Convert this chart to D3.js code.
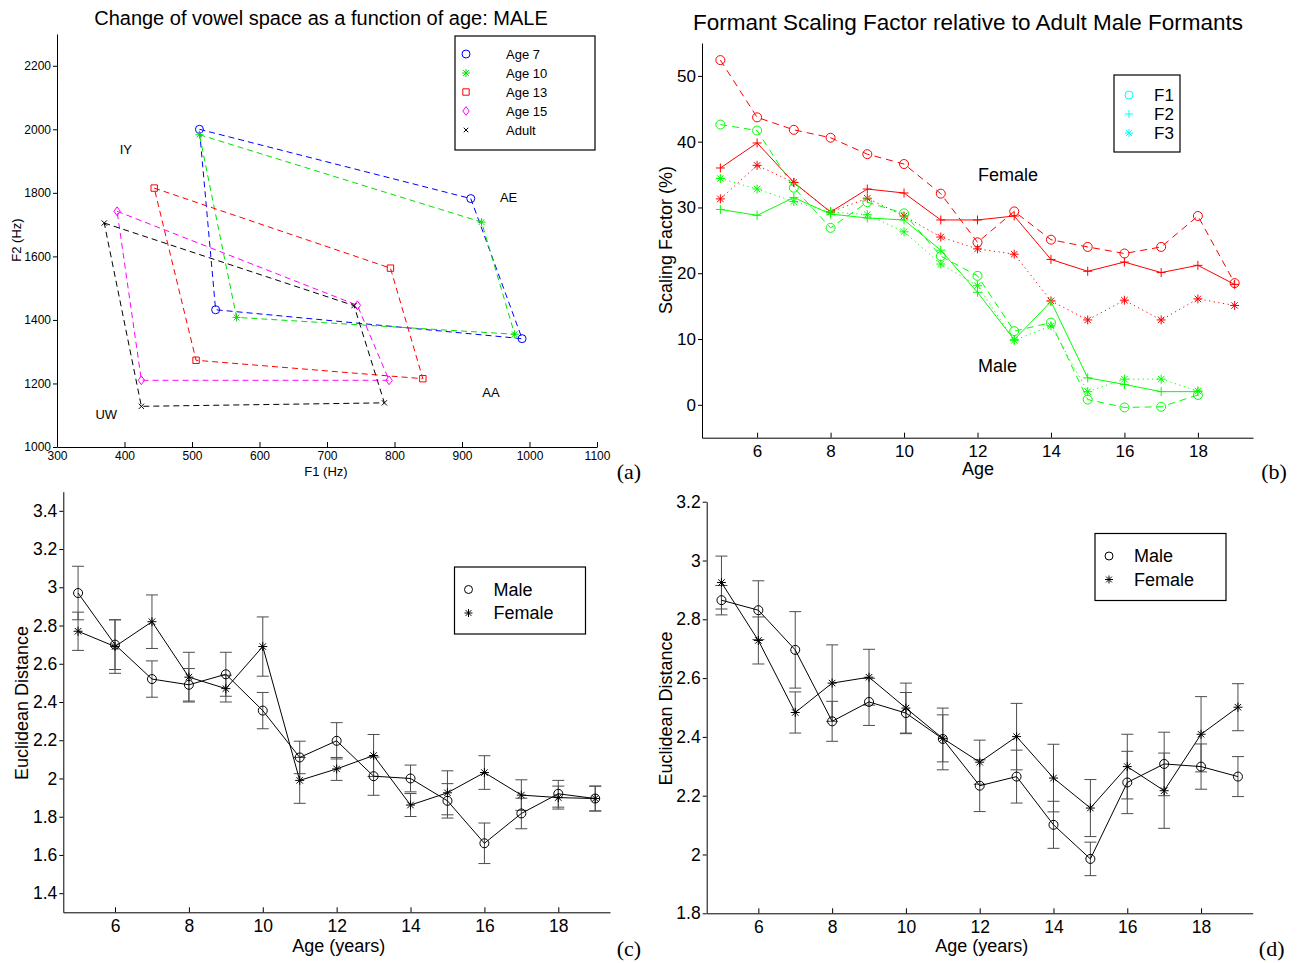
<!DOCTYPE html>
<html>
<head>
<meta charset="utf-8">
<script src="https://cdn.jsdelivr.net/npm/d3@7"></script>
<style>
body { margin: 0; background: #fff; }
text { font-family: "Liberation Sans", Arial, sans-serif; fill: #000; }
</style>
</head>
<body>
<script>
// ---- panel (a): vowel space, male ----
var groupsA = ["Age 7", "Age 10", "Age 13", "Age 15", "Adult"];
var vowelsA = ["IY", "AE", "AA", "UW"];
// F1 / F2 (Hz) for IY, AE, AA, UW
var f1A = [[511, 913, 989, 535], [511, 929, 978, 566], [444, 794, 842, 506], [389, 745, 792, 425], [370, 740, 785, 425]];
var f2A = [[2000, 1782, 1341, 1432], [1983, 1708, 1355, 1408], [1815, 1563, 1215, 1273], [1742, 1446, 1210, 1210], [1705, 1445, 1139, 1128]];
var ticksAx = [300, 400, 500, 600, 700, 800, 900, 1000, 1100];
var ticksAy = [1000, 1200, 1400, 1600, 1800, 2000, 2200];

// ---- panel (b): scaling factor ----
var agesF = [5, 6, 7, 8, 9, 10, 11, 12, 13, 14, 15, 16, 17, 18, 19];
var agesM = [5, 6, 7, 8, 9, 10, 11, 12, 13, 14, 15, 16, 17, 18];
var femaleF1 = [52.4, 43.7, 41.8, 40.6, 38.1, 36.6, 32.1, 24.7, 29.4, 25.1, 24.0, 23.0, 24.0, 28.7, 18.5];
var femaleF2 = [36.0, 39.8, 33.8, 29.3, 32.8, 32.2, 28.1, 28.1, 28.7, 22.1, 20.3, 21.7, 20.1, 21.2, 18.3];
var femaleF3 = [31.3, 36.4, 33.8, 29.3, 31.4, 28.7, 25.5, 23.7, 22.9, 15.8, 12.9, 15.9, 12.9, 16.1, 15.1];
var maleF1 = [42.6, 41.7, 33.0, 26.9, 30.8, 29.1, 22.6, 19.6, 11.2, 12.5, 0.8, -0.4, -0.3, 1.5];
var maleF2 = [29.7, 28.8, 31.5, 29.0, 28.4, 28.1, 23.5, 17.1, 9.9, 15.7, 4.1, 3.1, 2.0, 2.0];
var maleF3 = [34.4, 32.8, 30.9, 29.3, 28.9, 26.3, 21.4, 18.1, 9.8, 12.0, 2.0, 3.9, 3.9, 2.1];
var formants = ["F1", "F2", "F3"];

// ---- panels (c) and (d): euclidean distance ----
var ages = [5, 6, 7, 8, 9, 10, 11, 12, 13, 14, 15, 16, 17, 18, 19];
var maleC = [2.97, 2.70, 2.52, 2.49, 2.545, 2.355, 2.11, 2.197, 2.012, 2.00, 1.883, 1.661, 1.817, 1.92, 1.895];
var maleCErr = [0.14, 0.13, 0.095, 0.085, 0.115, 0.095, 0.085, 0.095, 0.10, 0.07, 0.09, 0.106, 0.08, 0.07, 0.065];
var femaleC = [2.77, 2.69, 2.82, 2.53, 2.47, 2.69, 1.99, 2.05, 2.12, 1.861, 1.925, 2.031, 1.913, 1.90, 1.895];
var femaleCErr = [0.10, 0.14, 0.14, 0.13, 0.07, 0.155, 0.12, 0.06, 0.11, 0.06, 0.115, 0.088, 0.08, 0.06, 0.065];
var maleD = [2.865, 2.831, 2.696, 2.453, 2.519, 2.481, 2.393, 2.234, 2.265, 2.101, 1.985, 2.245, 2.308, 2.299, 2.265];
var maleDErr = [0.05, 0.10, 0.13, 0.068, 0.08, 0.07, 0.105, 0.088, 0.09, 0.08, 0.057, 0.106, 0.108, 0.077, 0.068];
var femaleD = [2.925, 2.728, 2.483, 2.583, 2.603, 2.498, 2.395, 2.314, 2.401, 2.26, 2.158, 2.299, 2.217, 2.409, 2.501];
var femaleDErr = [0.09, 0.08, 0.07, 0.13, 0.095, 0.085, 0.08, 0.075, 0.113, 0.115, 0.097, 0.11, 0.128, 0.128, 0.08];
var ageTicks = [6, 8, 10, 12, 14, 16, 18];
var ticksC = [1.4, 1.6, 1.8, 2, 2.2, 2.4, 2.6, 2.8, 3, 3.2, 3.4];
var ticksD = [1.8, 2, 2.2, 2.4, 2.6, 2.8, 3, 3.2];

var svg = d3.select("body").append("svg")
  .attr("width", 1301)
  .attr("height", 963);

// marker shapes as path strings
function markerPath(shape, x, y, s) {
  var h = s / 2;
  if (shape == "o") return "M" + (x - h) + "," + y + "a" + h + "," + h + " 0 1,0 " + s + ",0a" + h + "," + h + " 0 1,0 " + (-s) + ",0";
  if (shape == "+") return "M" + (x - h) + "," + y + "H" + (x + h) + "M" + x + "," + (y - h) + "V" + (y + h);
  if (shape == "x") { var k = h * 0.75; return "M" + (x - k) + "," + (y - k) + "L" + (x + k) + "," + (y + k) + "M" + (x - k) + "," + (y + k) + "L" + (x + k) + "," + (y - k); }
  if (shape == "*") { var k2 = h * 0.72; return markerPath("+", x, y, s) + "M" + (x - k2) + "," + (y - k2) + "L" + (x + k2) + "," + (y + k2) + "M" + (x - k2) + "," + (y + k2) + "L" + (x + k2) + "," + (y - k2); }
  if (shape == "s") return "M" + (x - h * 0.8) + "," + (y - h * 0.8) + "h" + (s * 0.8) + "v" + (s * 0.8) + "h" + (-s * 0.8) + "Z";
  if (shape == "d") return "M" + x + "," + (y - h * 1.1) + "L" + (x + h * 0.8) + "," + y + "L" + x + "," + (y + h * 1.1) + "L" + (x - h * 0.8) + "," + y + "Z";
}

function axes(g, x, y, xt, yt, fs) {
  g.append("g")
    .attr("transform", "translate(0," + y.range()[0] + ")")
    .call(d3.axisBottom(x).tickValues(xt).tickSize(-5).tickSizeOuter(0).tickPadding(fs * 0.4).tickFormat(d3.format("d")))
    .call(function(a) { a.selectAll("text").style("font-size", fs + "px").style("font-family", "Liberation Sans, Arial, sans-serif"); });
  g.append("g")
    .attr("transform", "translate(" + x.range()[0] + ",0)")
    .call(d3.axisLeft(y).tickValues(yt).tickSize(4).tickSizeOuter(0).tickPadding(2).tickFormat(function(d) { return String(+d.toFixed(1)); }))
    .call(function(a) { a.selectAll("text").style("font-size", fs + "px").style("font-family", "Liberation Sans, Arial, sans-serif"); });
}

// ===================== (a) =====================
var xA = d3.scaleLinear().domain([300, 1100]).range([57, 597]);
var yA = d3.scaleLinear().domain([1000, 2300]).range([447, 34]);
var gA = svg.append("g");
axes(gA, xA, yA, ticksAx, ticksAy, 12);
var colA = ["#0000ff", "#00e000", "#ff0000", "#ff00ff", "#000000"];
var symA = ["o", "*", "s", "d", "x"];
groupsA.forEach(function(name, i) {
  var pts = f1A[i].map(function(f, j) { return [xA(f), yA(f2A[i][j])]; });
  gA.append("path")
    .attr("d", d3.line()(pts.concat([pts[0]])))
    .attr("fill", "none")
    .attr("stroke", colA[i])
    .attr("stroke-dasharray", "6,4");
  gA.selectAll(null).data(pts).join("path")
    .attr("d", function(p) { return markerPath(symA[i], p[0], p[1], symA[i] == "x" ? 7 : 8); })
    .attr("fill", "none")
    .attr("stroke", colA[i]);
});
var vowelSpotF1 = [402, 969, 943, 373];
var vowelSpotF2 = [1937, 1787, 1173, 1105];
vowelsA.forEach(function(v, j) {
  gA.append("text").attr("x", xA(vowelSpotF1[j])).attr("y", yA(vowelSpotF2[j]) + 5)
    .attr("text-anchor", "middle").style("font-size", "13px").text(v);
});
gA.append("text").attr("x", 321).attr("y", 25).attr("text-anchor", "middle").style("font-size", "20px")
  .text("Change of vowel space as a function of age: MALE");
gA.append("text").attr("x", 326).attr("y", 476).attr("text-anchor", "middle").style("font-size", "13px").text("F1 (Hz)");
gA.append("text").attr("transform", "translate(21,240) rotate(-90)").attr("text-anchor", "middle").style("font-size", "13px").text("F2 (Hz)");
// legend
gA.append("rect").attr("x", 455).attr("y", 36).attr("width", 140).attr("height", 114)
  .attr("fill", "#fff").attr("stroke", "#000").attr("stroke-width", 1.2);
groupsA.forEach(function(name, i) {
  var ly = 54 + i * 19;
  gA.append("path").attr("d", markerPath(symA[i], 466, ly, symA[i] == "x" ? 6 : 8)).attr("fill", "none").attr("stroke", colA[i]);
  gA.append("text").attr("x", 506).attr("y", ly + 4.5).style("font-size", "13px").text(name);
});
svg.append("text").attr("x", 629).attr("y", 479).attr("text-anchor", "middle")
  .style("font-family", "Liberation Serif, serif").style("font-size", "22px").text("(a)");

// ===================== (b) =====================
var xB = d3.scaleLinear().domain([4.5, 19.5]).range([702, 1253]);
var yB = d3.scaleLinear().domain([-5, 55]).range([437.7, 43]);
var gB = svg.append("g");
axes(gB, xB, yB, ageTicks, [0, 10, 20, 30, 40, 50], 17);
var seriesB = [
  { a: agesF, v: femaleF1, c: "#ff0000", s: "o", dash: "7,5" },
  { a: agesF, v: femaleF2, c: "#ff0000", s: "+", dash: null },
  { a: agesF, v: femaleF3, c: "#ff0000", s: "*", dash: "1.2,3.5" },
  { a: agesM, v: maleF1, c: "#00ff00", s: "o", dash: "7,5" },
  { a: agesM, v: maleF2, c: "#00ff00", s: "+", dash: null },
  { a: agesM, v: maleF3, c: "#00ff00", s: "*", dash: "1.2,3.5" }
];
seriesB.forEach(function(sr) {
  var pts = sr.a.map(function(a, i) { return [xB(a), yB(sr.v[i])]; });
  gB.append("path").attr("d", d3.line()(pts)).attr("fill", "none").attr("stroke", sr.c)
    .attr("stroke-dasharray", sr.dash);
  gB.selectAll(null).data(pts).join("path")
    .attr("d", function(p) { return markerPath(sr.s, p[0], p[1], 9); })
    .attr("fill", "none").attr("stroke", sr.c);
});
gB.append("text").attr("x", 968).attr("y", 30).attr("text-anchor", "middle").style("font-size", "22.5px")
  .text("Formant Scaling Factor relative to Adult Male Formants");
gB.append("text").attr("x", 978).attr("y", 475).attr("text-anchor", "middle").style("font-size", "18px").text("Age");
gB.append("text").attr("transform", "translate(672,240) rotate(-90)").attr("text-anchor", "middle").style("font-size", "18px").text("Scaling Factor (%)");
gB.append("text").attr("x", 978).attr("y", 181).style("font-size", "18px").text("Female");
gB.append("text").attr("x", 978).attr("y", 372).style("font-size", "18px").text("Male");
gB.append("rect").attr("x", 1114).attr("y", 75).attr("width", 66).attr("height", 77)
  .attr("fill", "#fff").attr("stroke", "#000").attr("stroke-width", 1.2);
["o", "+", "*"].forEach(function(s, i) {
  var ly = 95 + i * 19;
  gB.append("path").attr("d", markerPath(s, 1129, ly, 8)).attr("fill", "none").attr("stroke", "#00ffff");
  gB.append("text").attr("x", 1154).attr("y", ly + 6).style("font-size", "17px").text(formants[i]);
});
svg.append("text").attr("x", 1274).attr("y", 479).attr("text-anchor", "middle")
  .style("font-family", "Liberation Serif, serif").style("font-size", "22px").text("(b)");

// ===================== (c) and (d) =====================
function distPanel(xr, yr, ydom, yt, male, maleErr, female, femaleErr, lg, tag) {
  var x = d3.scaleLinear().domain([4.6, 19.4]).range(xr);
  var y = d3.scaleLinear().domain(ydom).range(yr);
  var g = svg.append("g");
  axes(g, x, y, ageTicks, yt, 17.5);
  [[male, maleErr, "o"], [female, femaleErr, "*"]].forEach(function(sr) {
    var bars = g.append("g").attr("stroke", "#4d4d4d").attr("fill", "none");
    ages.forEach(function(a, i) {
      var cx = x(a), lo = y(sr[0][i] - sr[1][i]), hi = y(sr[0][i] + sr[1][i]);
      bars.append("path").attr("d", "M" + cx + "," + lo + "V" + hi + "M" + (cx - 6) + "," + lo + "H" + (cx + 6) + "M" + (cx - 6) + "," + hi + "H" + (cx + 6));
    });
  });
  [[male, "o"], [female, "*"]].forEach(function(sr) {
    var pts = ages.map(function(a, i) { return [x(a), y(sr[0][i])]; });
    g.append("path").attr("d", d3.line()(pts)).attr("fill", "none").attr("stroke", "#000");
    g.selectAll(null).data(pts).join("path")
      .attr("d", function(p) { return markerPath(sr[1], p[0], p[1], 9); })
      .attr("fill", "none").attr("stroke", "#000");
  });
  var midX = (xr[0] + xr[1]) / 2;
  g.append("text").attr("x", midX + 2).attr("y", 952).attr("text-anchor", "middle").style("font-size", "18px").text("Age (years)");
  g.append("text").attr("transform", "translate(" + (xr[0] - 35) + "," + ((yr[0] + yr[1]) / 2 + 1) + ") rotate(-90)")
    .attr("text-anchor", "middle").style("font-size", "18px").text("Euclidean Distance");
  g.append("rect").attr("x", lg[0]).attr("y", lg[1]).attr("width", 131).attr("height", 67)
    .attr("fill", "#fff").attr("stroke", "#000").attr("stroke-width", 1.2);
  ["Male", "Female"].forEach(function(t, i) {
    var ly = lg[1] + 22.5 + i * 23.5;
    g.append("path").attr("d", markerPath(i == 0 ? "o" : "*", lg[0] + 14, ly, 8)).attr("fill", "none").attr("stroke", "#000");
    g.append("text").attr("x", lg[0] + 39).attr("y", ly + 6).style("font-size", "18px").text(t);
  });
  svg.append("text").attr("x", xr[1] + 19).attr("y", 956).attr("text-anchor", "middle")
    .style("font-family", "Liberation Serif, serif").style("font-size", "22px").text(tag);
}
distPanel([63.3, 610], [912.3, 491.7], [1.3, 3.5], ticksC, maleC, maleCErr, femaleC, femaleCErr, [454.5, 567], "(c)");
distPanel([706.7, 1252.7], [913.3, 501.7], [1.8, 3.2], ticksD, maleD, maleDErr, femaleD, femaleDErr, [1095, 533.5], "(d)");
</script>
</body>
</html>
